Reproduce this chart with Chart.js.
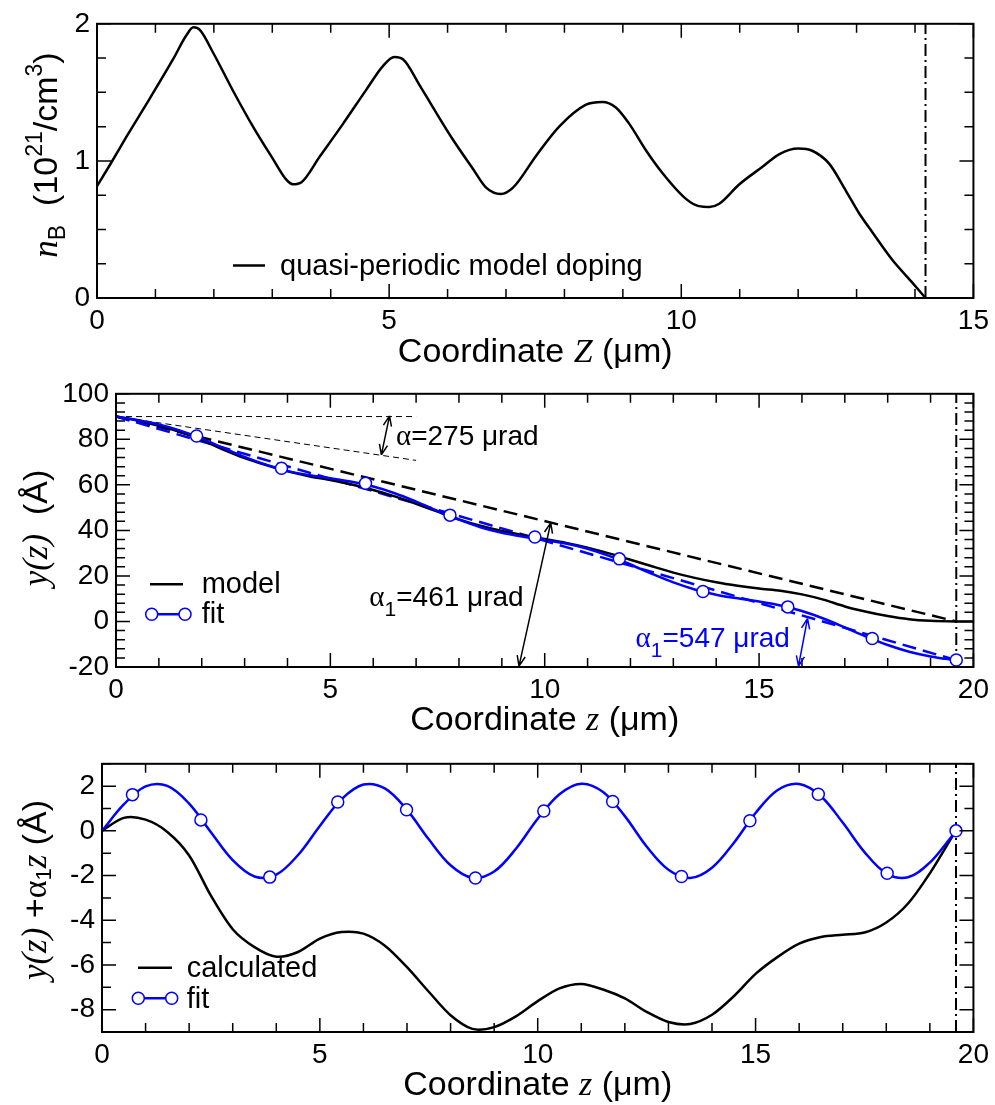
<!DOCTYPE html>
<html>
<head>
<meta charset="utf-8">
<script src="https://cdn.jsdelivr.net/npm/chart.js@4.4.1/dist/chart.umd.min.js"></script>
<style>
  body { margin: 0; background: #fff; width: 995px; height: 1105px; overflow: hidden; position: relative; }
  canvas { position: absolute; left: 0; }
</style>
</head>
<body>
<canvas id="c1" width="995" height="370" style="top:0"></canvas>
<canvas id="c2" width="995" height="370" style="top:370px"></canvas>
<canvas id="c3" width="995" height="365" style="top:740px"></canvas>
<script>
// ---- panel 1: doping profile n_B(Z) ----
const dopingZ = [0,0.22,0.51,0.91,1.30,1.53,1.65,1.76,1.99,2.33,2.67,3.01,3.24,3.35,3.50,3.81,4.21,4.61,4.89,5.09,5.24,5.52,5.75,6.09,6.43,6.66,6.91,7.12,7.52,7.91,8.37,8.65,8.88,9.11,9.40,9.68,10.08,10.30,10.48,10.65,10.99,11.39,11.68,12.00,12.24,12.53,12.82,13.04,13.27,13.61,13.95,14.18];
const dopingN = [0.816,0.97,1.18,1.46,1.74,1.916,1.974,1.955,1.787,1.51,1.25,1.015,0.863,0.83,0.845,1.03,1.27,1.52,1.69,1.757,1.74,1.553,1.39,1.156,0.945,0.805,0.758,0.805,1.04,1.25,1.41,1.43,1.39,1.27,1.074,0.91,0.723,0.67,0.664,0.688,0.828,0.957,1.05,1.09,1.074,0.98,0.78,0.62,0.48,0.279,0.114,0];
const dopingEnd = 14.18;

// ---- panel 2: y(z) model and fit ----
const profZ = [0,0.5,1,1.5,2,2.5,3,3.5,4,4.5,5,5.5,6,6.5,7,7.5,8,8.5,9,9.5,10,10.5,11,11.5,12,12.5,13,13.5,14,14.5,15,15.5,16,16.5,17,17.5,18,18.5,19,19.6];
const modelZ = [...profZ, 20];
const modelY = [90,88.25,85.91,83.19,79.68,75.5,71.75,68.7,65.93,63.81,62.1,60.13,57.74,54.92,51.68,48.23,44.87,42.02,39.71,37.86,36.2,34.5,32.44,29.89,27.13,24.23,21.47,19.15,17.23,15.71,14.45,13.5,11.9,9.6,6.6,4.3,2.4,1.0,0.3,0,0];
const fitY = [90,88.45,86.52,83.81,80.28,76.27,72.28,68.82,66.16,64.31,62.87,61.34,59.25,56.34,52.65,48.6,44.7,41.41,38.95,37.24,35.84,34.21,31.94,28.84,25.02,20.93,17.15,14.05,11.77,10.15,8.75,7.04,4.58,1.3,-2.62,-6.68,-10.36,-13.28,-15.35,-17.1];
const fitPtZ = [1.88,3.86,5.82,7.79,9.77,11.74,13.69,15.67,17.64,19.6];
const fitPtY = [81.5,67.3,60.7,46.7,37.1,27.5,13.2,6.4,-7.5,-16.9];
const chordZ = [0,19.6];
const chordModelY = [90,0];
const chordFitY = [90,-17];
const refZ = [0,7];
const refFlatY = [90,90];
const refTiltY = [90,70.75];
const arrowZ = [[6.38,6.19],[10.14,9.40],[16.13,15.92]];
const arrowY = [[90.3,73.2],[43.3,-19.6],[1.3,-19.6]];
const crystalEnd = 19.6;

// ---- panel 3: y(z) + alpha1 z ----
const devZ = [0,0.5,1,1.5,2,2.5,3,3.5,4,4.5,5,5.5,6,6.5,7,7.5,8,8.5,9,9.5,10,10.5,11,11.5,12,12.5,13,13.5,14,14.5,15,15.5,16,16.5,17,17.5,18,18.5,19,19.5,19.6];
const calcY = [0,0.58,0.5,-0.05,-1.1,-2.9,-4.4,-5.2,-5.63,-5.42,-4.82,-4.53,-4.6,-5.15,-6.1,-7.2,-8.25,-8.86,-8.78,-8.3,-7.62,-7.05,-6.85,-7.1,-7.5,-8.1,-8.55,-8.64,-8.23,-7.4,-6.4,-5.65,-5.05,-4.75,-4.65,-4.55,-4.1,-3.25,-1.9,-0.3,0];
const devFitY = [0,1.18,1.99,2.01,1.22,-0.06,-1.31,-2.04,-1.96,-1.08,0.22,1.42,2.07,1.89,0.94,-0.38,-1.54,-2.10,-1.82,-0.80,0.54,1.64,2.11,1.74,0.66,-0.70,-1.74,-2.11,-1.65,-0.54,0.80,1.82,2.10,1.55,0.37,-0.95,-1.90,-2.08,-1.42,-0.25,0];
const devPtZ = [0.70,2.27,3.85,5.41,6.99,8.57,10.14,11.72,13.30,14.87,16.44,18.02,19.6];
const devPtY = [1.62,0.49,-2.07,1.29,0.94,-2.11,0.89,1.31,-2.04,0.45,1.64,-1.90,0];

// ---- ticks ----
const p1XTicks = [0,5,10,15], p1YTicks = [0,1,2];
const p2XTicks = [0,5,10,15,20], p2YTicks = [-20,0,20,40,60,80,100];
const p3XTicks = [0,5,10,15,20], p3YTicks = [-8,-6,-4,-2,0,2];

const SANS = '"Liberation Sans", Arial, Helvetica, sans-serif';
const SERIF = '"Liberation Serif", "Times New Roman", serif';
const BLUE = '#0000ff';

const pts = (xs, ys) => xs.map((x, i) => ({ x: x, y: ys[i] }));

function ticksOf(min, max, step) {
    const out = [];
    for (let i = 0; ; i++) {
        const v = +(min + i * step).toFixed(4);
        if (v > max + 1e-9) break;
        out.push(v);
    }
    return out;
}

// text made of pieces with their own font and baseline shift
function drawRich(ctx, parts, x, y, opts) {
    opts = opts || {};
    ctx.save();
    ctx.translate(x, y);
    if (opts.rotate) ctx.rotate(-Math.PI / 2);
    let w = 0;
    parts.forEach(p => { ctx.font = p[1]; w += ctx.measureText(p[0]).width; });
    let cx = opts.align === 'left' ? 0 : -w / 2;
    ctx.fillStyle = opts.color || '#000';
    ctx.textBaseline = 'alphabetic';
    ctx.textAlign = 'left';
    parts.forEach(p => {
        ctx.font = p[1];
        ctx.fillText(p[0], cx, p[2] || 0);
        cx += ctx.measureText(p[0]).width;
    });
    ctx.restore();
}

function drawFrame(chart, xMajor, xStep, yMajor, yStep) {
    const { ctx, chartArea: a, scales: { x, y } } = chart;
    ctx.save();
    ctx.strokeStyle = '#000';
    ctx.lineWidth = 1.5;
    ctx.beginPath();
    ticksOf(x.min, x.max, xStep).forEach(v => {
        const len = xMajor.includes(v) ? 14 : 9;
        const px = x.getPixelForValue(v);
        ctx.moveTo(px, a.bottom); ctx.lineTo(px, a.bottom - len);
        ctx.moveTo(px, a.top); ctx.lineTo(px, a.top + len);
    });
    ticksOf(y.min, y.max, yStep).forEach(v => {
        const len = yMajor.includes(v) ? 14 : 9;
        const py = y.getPixelForValue(v);
        ctx.moveTo(a.left, py); ctx.lineTo(a.left + len, py);
        ctx.moveTo(a.right, py); ctx.lineTo(a.right - len, py);
    });
    ctx.stroke();
    ctx.lineWidth = 2;
    ctx.strokeRect(a.left, a.top, a.right - a.left, a.bottom - a.top);
    ctx.restore();
}

function arrow(ctx, x1, y1, x2, y2, color) {
    ctx.save();
    ctx.strokeStyle = color;
    ctx.lineWidth = 1.5;
    ctx.beginPath();
    ctx.moveTo(x1, y1); ctx.lineTo(x2, y2);
    const head = (xa, ya, xb, yb) => {
        const ang = Math.atan2(ya - yb, xa - xb);
        [-0.38, 0.38].forEach(d => {
            ctx.moveTo(xa, ya);
            ctx.lineTo(xa - 11 * Math.cos(ang + d), ya - 11 * Math.sin(ang + d));
        });
    };
    head(x1, y1, x2, y2);
    head(x2, y2, x1, y1);
    ctx.stroke();
    ctx.restore();
}

function legendLine(ctx, x1, x2, y, color) {
    ctx.save();
    ctx.strokeStyle = color; ctx.lineWidth = 2.5;
    ctx.beginPath(); ctx.moveTo(x1, y); ctx.lineTo(x2, y); ctx.stroke();
    ctx.restore();
}

function legendFit(ctx, x1, x2, y) {
    legendLine(ctx, x1, x2, y, BLUE);
    ctx.save();
    ctx.strokeStyle = BLUE; ctx.fillStyle = '#fff'; ctx.lineWidth = 1.5;
    [x1, x2].forEach(cx => {
        ctx.beginPath(); ctx.arc(cx, y, 6, 0, Math.PI * 2); ctx.fill(); ctx.stroke();
    });
    ctx.restore();
}

function legendText(ctx, text, x, y) {
    ctx.save();
    ctx.font = '29px ' + SANS; ctx.fillStyle = '#000';
    ctx.textBaseline = 'alphabetic'; ctx.textAlign = 'left';
    ctx.fillText(text, x, y);
    ctx.restore();
}

function xTitle(chart, symbol, baseline) {
    const a = chart.chartArea;
    drawRich(chart.ctx, [
        ['Coordinate ', '34px ' + SANS],
        [symbol, 'italic 34px ' + SERIF],
        [' (\u03bcm)', '34px ' + SANS]
    ], (a.left + a.right) / 2, baseline);
}

function makeChart(id, cfg) {
    const tickFont = { family: SANS, size: 28 };
    return new Chart(document.getElementById(id), {
        type: 'scatter',
        data: { datasets: cfg.datasets },
        options: {
            responsive: false,
            animation: false,
            devicePixelRatio: 1,
            layout: { padding: { top: cfg.top, right: 19, left: 0, bottom: 0 } },
            plugins: { legend: { display: false }, tooltip: { enabled: false } },
            scales: {
                x: {
                    type: 'linear', min: cfg.xMin, max: cfg.xMax,
                    grid: { display: false, drawTicks: false }, border: { display: false },
                    afterBuildTicks: s => { s.ticks = cfg.xTicks.map(v => ({ value: v })); },
                    afterFit: s => { s.height = cfg.xh; },
                    ticks: { padding: 6, font: tickFont, color: '#000', maxRotation: 0, autoSkip: false, callback: v => String(v) }
                },
                y: {
                    type: 'linear', min: cfg.yMin, max: cfg.yMax,
                    grid: { display: false, drawTicks: false }, border: { display: false },
                    afterBuildTicks: s => { s.ticks = cfg.yTicks.map(v => ({ value: v })); },
                    afterFit: s => { s.width = cfg.yw; },
                    ticks: { padding: 7, font: tickFont, color: '#000', autoSkip: false, callback: v => String(v) }
                }
            }
        },
        plugins: [{ id: 'deco', afterDraw: cfg.draw }]
    });
}

const lineDs = (data, color, width, extra) => Object.assign({
    data: data, showLine: true, borderColor: color, borderWidth: width,
    pointRadius: 0, pointHoverRadius: 0, fill: false
}, extra || {});

const circleDs = data => ({
    data: data, showLine: false, pointRadius: 6, pointHoverRadius: 6,
    pointBackgroundColor: '#fff', pointBorderColor: BLUE, pointBorderWidth: 1.5
});

const DASHDOT = [12, 4, 2, 4];

// Panel 1
makeChart('c1', {
    top: 13, xh: 72, yw: 97,
    xMin: 0, xMax: 15, yMin: 0, yMax: 2,
    xTicks: p1XTicks, yTicks: p1YTicks,
    datasets: [
        lineDs(pts(dopingZ, dopingN), '#000', 2.5, { cubicInterpolationMode: 'monotone' }),
        lineDs(pts([dopingEnd, dopingEnd], [0, 2]), '#000', 2, { borderDash: DASHDOT })
    ],
    draw: chart => {
        const ctx = chart.ctx;
        drawFrame(chart, p1XTicks, 1, p1YTicks, 0.25);
        legendLine(ctx, 233, 265, 265.5, '#000');
        legendText(ctx, 'quasi-periodic model doping', 280, 275);
        xTitle(chart, 'Z', 361.7);
        drawRich(ctx, [
            ['n', 'italic 35px ' + SERIF],
            ['B', '23px ' + SANS, 8],
            ['  (10', '34px ' + SANS],
            ['21', '23px ' + SANS, -15],
            ['/cm', '34px ' + SANS],
            ['3', '23px ' + SANS, -15],
            [')', '34px ' + SANS]
        ], 57, 155, { rotate: true });
    }
});

// Panel 2
makeChart('c2', {
    top: 18, xh: 73, yw: 116,
    xMin: 0, xMax: 20, yMin: -20, yMax: 100,
    xTicks: p2XTicks, yTicks: p2YTicks,
    datasets: [
        circleDs(pts(fitPtZ, fitPtY)),
        lineDs(pts(profZ, fitY), BLUE, 2.5, { tension: 0.35 }),
        lineDs(pts(modelZ, modelY), '#000', 2.5, { tension: 0.3 }),
        lineDs(pts(chordZ, chordFitY), BLUE, 2.5, { borderDash: [14, 7] }),
        lineDs(pts(chordZ, chordModelY), '#000', 2.5, { borderDash: [14, 7] }),
        lineDs(pts(refZ, refFlatY), '#000', 1, { borderDash: [6, 4] }),
        lineDs(pts(refZ, refTiltY), '#000', 1, { borderDash: [6, 4] }),
        lineDs(pts([crystalEnd, crystalEnd], [-20, 100]), '#000', 2, { borderDash: DASHDOT })
    ],
    draw: chart => {
        const ctx = chart.ctx;
        const X = v => chart.scales.x.getPixelForValue(v);
        const Y = v => chart.scales.y.getPixelForValue(v);
        drawFrame(chart, p2XTicks, 1, p2YTicks, 4);
        const colors = ['#000', '#000', BLUE];
        arrowZ.forEach((z, i) => arrow(ctx, X(z[0]), Y(arrowY[i][0]), X(z[1]), Y(arrowY[i][1]), colors[i]));
        drawRich(ctx, [
            ['\u03b1', '29px ' + SERIF],
            ['=275 \u03bcrad', '28px ' + SANS]
        ], X(6.53), Y(77.6), { align: 'left' });
        drawRich(ctx, [
            ['\u03b1', '29px ' + SERIF],
            ['1', '21px ' + SANS, 10],
            ['=461 \u03bcrad', '28px ' + SANS]
        ], X(5.91), Y(6.7), { align: 'left' });
        drawRich(ctx, [
            ['\u03b1', '29px ' + SERIF],
            ['1', '21px ' + SANS, 10],
            ['=547 \u03bcrad', '28px ' + SANS]
        ], X(12.12), Y(-11.2), { align: 'left', color: BLUE });
        legendLine(ctx, 150, 183, 214.3, '#000');
        legendText(ctx, 'model', 201.7, 223.3);
        legendFit(ctx, 151.7, 185, 244.3);
        legendText(ctx, 'fit', 201.7, 253.3);
        xTitle(chart, 'z', 360);
        drawRich(ctx, [
            ['y(z)', 'italic 35px ' + SERIF],
            ['  (\u00c5)', '34px ' + SANS]
        ], 47, 158, { rotate: true });
    }
});

// Panel 3
makeChart('c3', {
    top: 7, xh: 73, yw: 102,
    xMin: 0, xMax: 20, yMin: -9, yMax: 3,
    xTicks: p3XTicks, yTicks: p3YTicks,
    datasets: [
        circleDs(pts(devPtZ, devPtY)),
        lineDs(pts(devZ, devFitY), BLUE, 2.5, { tension: 0.35 }),
        lineDs(pts(devZ, calcY), '#000', 2.5, { tension: 0.3 }),
        lineDs(pts([crystalEnd, crystalEnd], [-9, 3]), '#000', 2, { borderDash: DASHDOT })
    ],
    draw: chart => {
        const ctx = chart.ctx;
        drawFrame(chart, p3XTicks, 1, p3YTicks, 1);
        legendLine(ctx, 138, 172, 227.7, '#000');
        legendText(ctx, 'calculated', 186.7, 237);
        legendFit(ctx, 138.3, 171.7, 258.3);
        legendText(ctx, 'fit', 186.7, 268);
        xTitle(chart, 'z', 355);
        drawRich(ctx, [
            ['y(z)', 'italic 35px ' + SERIF],
            [' +', '34px ' + SANS],
            ['\u03b1', '34px ' + SERIF],
            ['1', '22px ' + SANS, 5],
            ['z', 'italic 35px ' + SERIF],
            [' (\u00c5)', '34px ' + SANS]
        ], 46, 150, { rotate: true });
    }
});
</script>
</body>
</html>
